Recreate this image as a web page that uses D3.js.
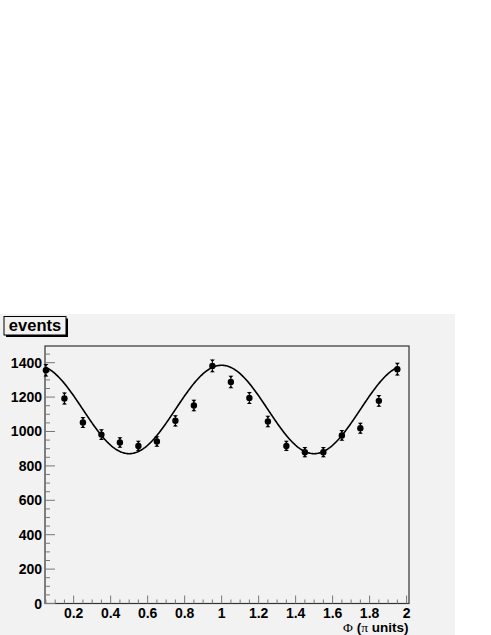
<!DOCTYPE html>
<html>
<head>
<meta charset="utf-8">
<script src="https://cdn.jsdelivr.net/npm/d3@7"></script>
<style>
  html, body { margin: 0; padding: 0; background: #ffffff; }
  svg { display: block; }
</style>
</head>
<body>
<script>
// ---- data ----
const phi = [0.05, 0.15, 0.25, 0.35, 0.45, 0.55, 0.65, 0.75, 0.85, 0.95,
             1.05, 1.15, 1.25, 1.35, 1.45, 1.55, 1.65, 1.75, 1.85, 1.95];
const events = [1356, 1192, 1052, 982, 936, 916, 942, 1062, 1151, 1381,
                1288, 1195, 1058, 916, 880, 880, 977, 1019, 1178, 1362];
const errors = [37, 35, 32, 31, 31, 30, 31, 33, 34, 37,
                36, 35, 33, 30, 30, 30, 31, 32, 34, 37];
// fit: p0 + p1*cos(2*pi*phi)
const fitP0 = 1128;
const fitP1 = 257;
const fitRange = [0.05, 1.95];
const xTicks = [0.2, 0.4, 0.6, 0.8, 1, 1.2, 1.4, 1.6, 1.8, 2];
const yTicks = [0, 200, 400, 600, 800, 1000, 1200, 1400];
const titleText = "events";

// ---- layout ----
const W = 491, H = 635;
const svg = d3.select("body").append("svg").attr("width", W).attr("height", H);

const frame = {left: 45, right: 409, top: 346, bottom: 603.5};
const x = d3.scaleLinear().domain([0.045, 2.013]).range([frame.left, frame.right]);
const y = d3.scaleLinear().domain([0, 1497]).range([frame.bottom, frame.top]);

const bg = "#f2f2f2";
svg.append("rect").attr("x", 0).attr("y", 314).attr("width", 455).attr("height", H - 314).attr("fill", bg);

// frame
svg.append("rect").attr("x", frame.left).attr("y", frame.top)
  .attr("width", frame.right - frame.left).attr("height", frame.bottom - frame.top)
  .attr("fill", bg).attr("stroke", "#333").attr("stroke-width", 1.2);

const sans = "'Liberation Sans', Arial, Helvetica, sans-serif";
const serif = "'Liberation Serif', 'Times New Roman', serif";

// y axis ticks
const yMinor = d3.range(0, 1497, 50);
svg.append("g").selectAll("line").data(yMinor).join("line")
  .attr("x1", frame.left).attr("x2", d => frame.left + (d % 200 === 0 ? 10 : 5))
  .attr("y1", d => y(d)).attr("y2", d => y(d))
  .attr("stroke", "#777").attr("stroke-width", 1);
svg.append("g").selectAll("text").data(yTicks).join("text")
  .attr("x", frame.left - 3).attr("y", d => y(d) + 5)
  .attr("text-anchor", "end")
  .attr("font-family", sans).attr("font-weight", "bold").attr("font-size", 14)
  .attr("fill", "#000").text(d => d);

// x axis ticks
const xMinor = d3.range(0.05, 2.001, 0.05).map(d => +d.toFixed(2));
svg.append("g").selectAll("line").data(xMinor).join("line")
  .attr("x1", d => x(d)).attr("x2", d => x(d))
  .attr("y1", frame.bottom)
  .attr("y2", d => frame.bottom - (Math.abs(d * 5 - Math.round(d * 5)) < 1e-6 ? 8 : 4))
  .attr("stroke", "#777").attr("stroke-width", 1);
svg.append("g").selectAll("text").data(xTicks).join("text")
  .attr("x", d => x(d)).attr("y", 617.5)
  .attr("text-anchor", "middle")
  .attr("font-family", sans).attr("font-weight", "bold").attr("font-size", 14)
  .attr("fill", "#000").text(d => d);

// axis title
const xt = svg.append("text").attr("x", 408.5).attr("y", 631.5).attr("text-anchor", "end")
  .attr("font-family", sans).attr("font-weight", "bold").attr("font-size", 13.5).attr("fill", "#000");
xt.append("tspan").attr("font-family", serif).attr("font-weight", "normal").text("\u03A6");
xt.append("tspan").text(" (");
xt.append("tspan").attr("font-family", serif).attr("font-weight", "normal").text("\u03C0");
xt.append("tspan").text(" units)");

// fit curve
const curveX = d3.range(fitRange[0], fitRange[1] + 1e-9, 0.005);
const line = d3.line().x(d => x(d)).y(d => y(fitP0 + fitP1 * Math.cos(2 * Math.PI * d)));
svg.append("path").datum(curveX).attr("d", line)
  .attr("fill", "none").attr("stroke", "#000").attr("stroke-width", 1.6);

// points with error bars
const pts = svg.append("g");
phi.forEach((p, i) => {
  const cx = x(p), cy = y(events[i]);
  const yt = y(events[i] + errors[i]), yb = y(events[i] - errors[i]);
  pts.append("line").attr("x1", cx).attr("x2", cx).attr("y1", yt).attr("y2", yb)
    .attr("stroke", "#000").attr("stroke-width", 1);
  // caps (small triangles like ROOT's)
  pts.append("path").attr("d", `M${cx - 2.5},${yt} L${cx + 2.5},${yt} L${cx},${yt + 2.5} Z`).attr("fill", "#000");
  pts.append("path").attr("d", `M${cx - 2.5},${yb} L${cx + 2.5},${yb} L${cx},${yb - 2.5} Z`).attr("fill", "#000");
  pts.append("circle").attr("cx", cx).attr("cy", cy).attr("r", 3.2).attr("fill", "#000");
});

// title box with shadow
const tb = {x: 4, y: 316.5, w: 62, h: 18.5};
svg.append("rect").attr("x", tb.x + 2).attr("y", tb.y + 2).attr("width", tb.w).attr("height", tb.h).attr("fill", "#000");
svg.append("rect").attr("x", tb.x).attr("y", tb.y).attr("width", tb.w).attr("height", tb.h)
  .attr("fill", bg).attr("stroke", "#000").attr("stroke-width", 1);
svg.append("text").attr("x", tb.x + tb.w / 2).attr("y", tb.y + 14.5).attr("text-anchor", "middle")
  .attr("font-family", sans).attr("font-weight", "bold").attr("font-size", 16.5)
  .attr("fill", "#000").text(titleText);
</script>
</body>
</html>
